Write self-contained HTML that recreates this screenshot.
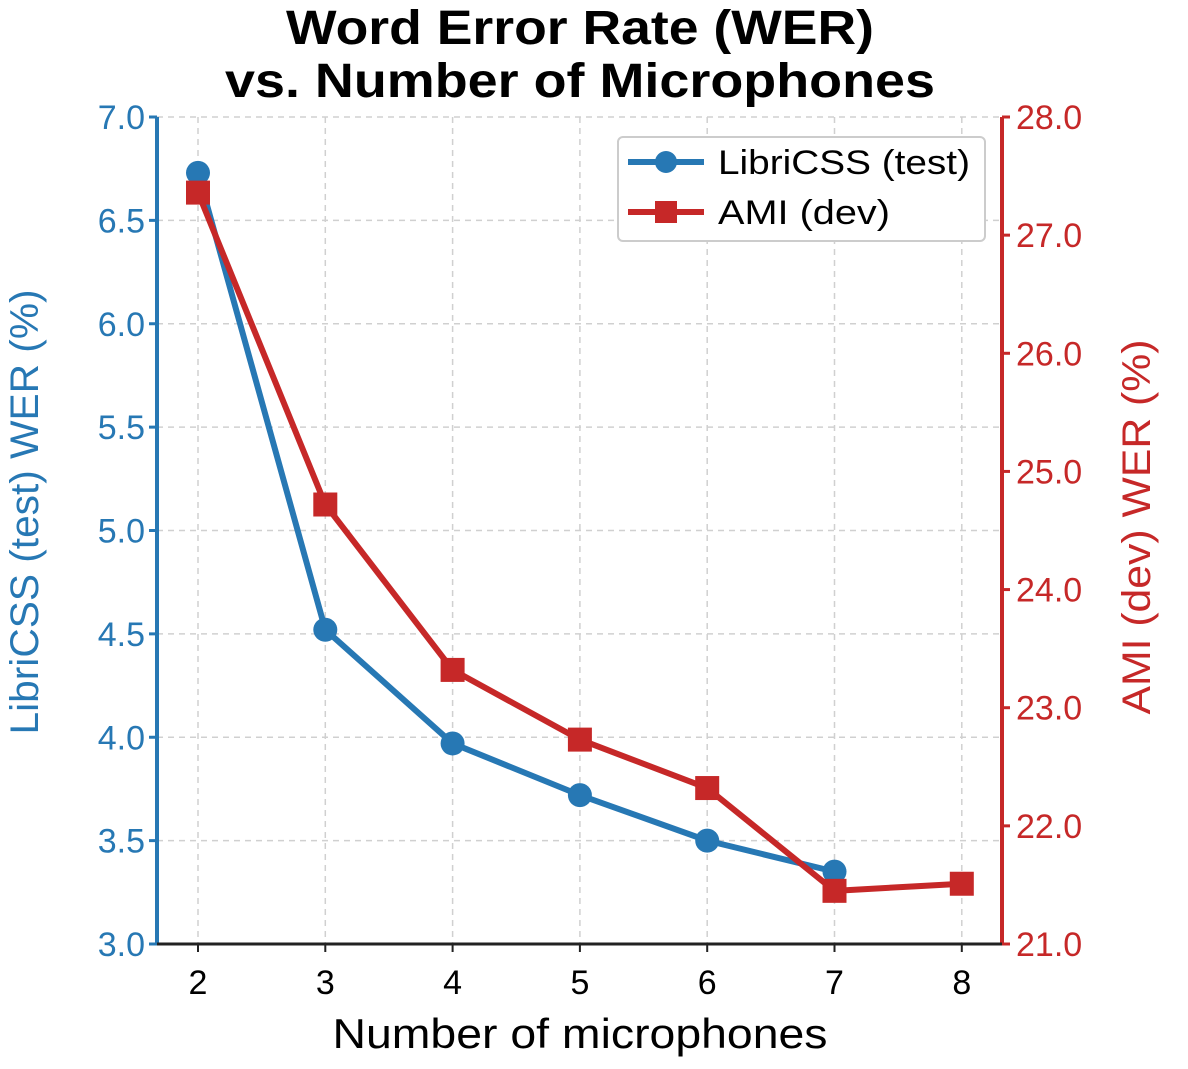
<!DOCTYPE html>
<html><head><meta charset="utf-8"><style>
html,body{margin:0;padding:0;background:#fff;}
svg text{font-family:"Liberation Sans",sans-serif;}
</style></head><body>
<svg id="chart" width="1188" height="1064" viewBox="0 0 1188 1064" xmlns="http://www.w3.org/2000/svg">
<text x="580" y="44" font-size="48" font-weight="bold" text-anchor="middle" textLength="588" lengthAdjust="spacingAndGlyphs">Word Error Rate (WER)</text>
<text x="580" y="97" font-size="48" font-weight="bold" text-anchor="middle" textLength="710" lengthAdjust="spacingAndGlyphs">vs. Number of Microphones</text>
<g id="grid"></g>
<g id="axes"></g>
<g id="series"></g>
<text x="580" y="1048" font-size="42" text-anchor="middle" textLength="495" lengthAdjust="spacingAndGlyphs">Number of microphones</text>
<text transform="translate(38,512) rotate(-90)" font-size="40" fill="#2778b4" text-anchor="middle" textLength="445" lengthAdjust="spacingAndGlyphs">LibriCSS (test) WER (%)</text>
<text transform="translate(1150,527) rotate(-90)" font-size="40" fill="#c62828" text-anchor="middle" textLength="375" lengthAdjust="spacingAndGlyphs">AMI (dev) WER (%)</text>
<g>
<rect x="618" y="137" width="367" height="104" rx="5" fill="#fff" stroke="#ccc" stroke-width="2"/>
<line x1="628" y1="162" x2="704" y2="162" stroke="#2778b4" stroke-width="6"/>
<circle cx="666" cy="162" r="11" fill="#2778b4"/>
<text x="718" y="174" font-size="34" textLength="252" lengthAdjust="spacingAndGlyphs">LibriCSS (test)</text>
<line x1="628" y1="212" x2="704" y2="212" stroke="#c62828" stroke-width="6"/>
<rect x="655" y="201" width="22" height="22" fill="#c62828"/>
<text x="718" y="224" font-size="34" textLength="172" lengthAdjust="spacingAndGlyphs">AMI (dev)</text>
</g>
</svg>
<script>
const mics = [2,3,4,5,6,7,8];
const libriX = [2,3,4,5,6,7];
const libriWER = [6.73,4.52,3.97,3.72,3.50,3.35];
const amiX = [2,3,4,5,6,7,8];
const amiWER = [27.36,24.72,23.32,22.73,22.32,21.45,21.51];
const leftTicks = [3.0,3.5,4.0,4.5,5.0,5.5,6.0,6.5,7.0];
const rightTicks = [21.0,22.0,23.0,24.0,25.0,26.0,27.0,28.0];

const NS="http://www.w3.org/2000/svg";
const L=157,R=1002,T=117,B=944;
const xs=v=>198+(v-2)*127.3;
const yl=v=>B-(v-3)/(7-3)*(B-T);
const yr=v=>B-(v-21)/(28-21)*(B-T);
function mk(tag,attrs,parent){const e=document.createElementNS(NS,tag);for(const k in attrs)e.setAttribute(k,attrs[k]);parent.appendChild(e);return e;}
const grid=document.getElementById('grid'),axes=document.getElementById('axes'),ser=document.getElementById('series');
mics.forEach(m=>{const e=mk('line',{x1:xs(m),x2:xs(m),y1:T,y2:B,stroke:'#d0d0d0','stroke-width':1.5,'stroke-dasharray':'6,5'},grid);

});
leftTicks.forEach(t=>{const e=mk('line',{x1:L,x2:R,y1:yl(t),y2:yl(t),stroke:'#d0d0d0','stroke-width':1.5,'stroke-dasharray':'6,5'},grid);

});
let a=mk('line',{x1:L,x2:L,y1:T,y2:B,stroke:'#2778b4','stroke-width':4},axes);


a=mk('line',{x1:R,x2:R,y1:T,y2:B,stroke:'#c62828','stroke-width':4},axes);


a=mk('line',{x1:L,x2:R,y1:B,y2:B,stroke:'#222','stroke-width':3},axes);


mics.forEach(m=>{mk('line',{x1:xs(m),x2:xs(m),y1:B,y2:B+8,stroke:'#222','stroke-width':2},axes);
const t=mk('text',{x:xs(m),y:B+50,'font-size':34,'text-anchor':'middle'},axes);t.textContent=m;

});
leftTicks.forEach(v=>{mk('line',{x1:L-8,x2:L,y1:yl(v),y2:yl(v),stroke:'#2778b4','stroke-width':3},axes);
const t=mk('text',{x:L-12,y:yl(v)+12,'font-size':34,'text-anchor':'end',fill:'#2778b4'},axes);t.textContent=v.toFixed(1);

});
rightTicks.forEach(v=>{mk('line',{x1:R,x2:R+8,y1:yr(v),y2:yr(v),stroke:'#c62828','stroke-width':3},axes);
const t=mk('text',{x:R+14,y:yr(v)+12,'font-size':34,'text-anchor':'start',fill:'#c62828'},axes);t.textContent=v.toFixed(1);

});
let p=mk('polyline',{points:libriX.map((x,i)=>xs(x)+','+yl(libriWER[i])).join(' '),fill:'none',stroke:'#2778b4','stroke-width':6,'stroke-linejoin':'round'},ser);


p=mk('polyline',{points:amiX.map((x,i)=>xs(x)+','+yr(amiWER[i])).join(' '),fill:'none',stroke:'#c62828','stroke-width':6,'stroke-linejoin':'round'},ser);


libriX.forEach((x,i)=>{const c=mk('circle',{cx:xs(x),cy:yl(libriWER[i]),r:12,fill:'#2778b4'},ser);

});
amiX.forEach((x,i)=>{const c=mk('rect',{x:xs(x)-12,y:yr(amiWER[i])-12,width:24,height:24,fill:'#c62828'},ser);

});
</script>
</body></html>
